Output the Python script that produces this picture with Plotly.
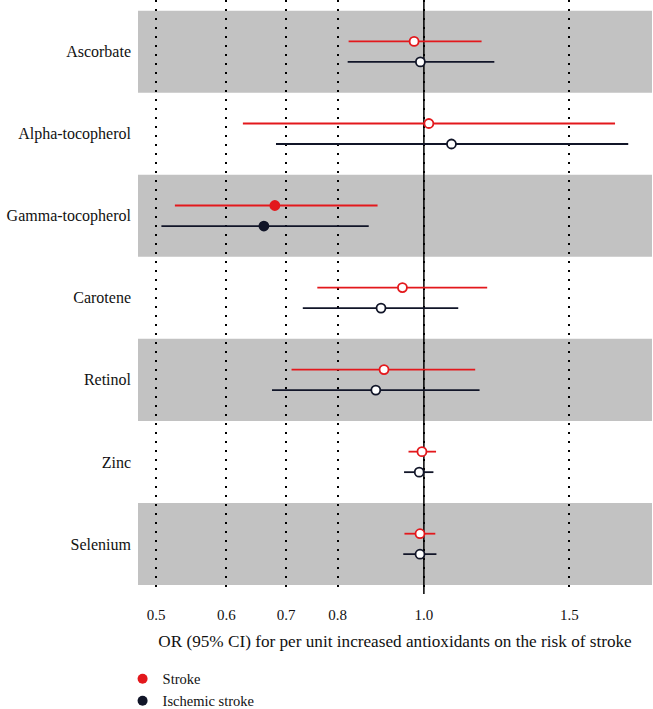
import plotly.graph_objects as go
import numpy as np

categories = ["Ascorbate", "Alpha-tocopherol", "Gamma-tocopherol", "Carotene",
              "Retinol", "Zinc", "Selenium"]

stroke_or = [0.975, 1.013, 0.680, 0.946, 0.902, 0.995, 0.990]
stroke_lo = [0.823, 0.626, 0.525, 0.759, 0.710, 0.961, 0.951]
stroke_hi = [1.161, 1.640, 0.887, 1.178, 1.142, 1.032, 1.030]

isch_or = [0.991, 1.074, 0.661, 0.895, 0.883, 0.988, 0.990]
isch_lo = [0.821, 0.682, 0.507, 0.731, 0.675, 0.950, 0.948]
isch_hi = [1.200, 1.697, 0.867, 1.093, 1.155, 1.025, 1.033]

tick_vals = [0.5, 0.6, 0.7, 0.8, 1.0, 1.457]
tick_text = ["0.5", "0.6", "0.7", "0.8", "1.0", "1.5"]

series = [
    ("Stroke", stroke_or, stroke_lo, stroke_hi, "#E3181C", 0.125),
    ("Ischemic stroke", isch_or, isch_lo, isch_hi, "#111528", -0.125),
]

n = len(categories)
centers = [n - i for i in range(n)]

FONT = "Liberation Serif"
fig = go.Figure()

for name, est, lo, hi, color, off in series:
    est = np.array(est); lo = np.array(lo); hi = np.array(hi)
    sig = (hi < 1) | (lo > 1)
    fills = [color if s else "white" for s in sig]
    fig.add_trace(go.Scatter(
        x=est, y=[c + off for c in centers], mode="markers",
        error_x=dict(type="data", symmetric=False, array=hi - est,
                     arrayminus=est - lo, color=color, thickness=1.8, width=0),
        marker=dict(size=9, color=fills, line=dict(color=color, width=1.8)),
        showlegend=False, hoverinfo="skip"))
    fig.add_trace(go.Scatter(
        x=[None], y=[None], mode="markers", name=name,
        marker=dict(size=10, color=color)))

shapes = []
for i, c in enumerate(centers):
    if i % 2 == 0:
        shapes.append(dict(type="rect", xref="paper", x0=0, x1=1, yref="y",
                           y0=c - 0.5, y1=c + 0.5, fillcolor="#c2c2c2",
                           line=dict(width=0), layer="below"))
shapes.append(dict(type="line", xref="x", x0=1, x1=1, yref="paper", y0=0, y1=1,
                   line=dict(color="black", width=1.5), layer="between"))

fig.update_layout(
    width=653, height=709,
    margin=dict(l=138, r=1, t=0, b=115, autoexpand=False),
    plot_bgcolor="white", paper_bgcolor="white",
    font=dict(family=FONT, color="#111", size=14),
    shapes=shapes,
    showlegend=True,
    legend=dict(x=-0.03, y=-0.116, xanchor="left", yanchor="top",
                font=dict(size=14.5, family=FONT),
                bgcolor="rgba(0,0,0,0)", tracegroupgap=0, itemwidth=30,
                borderwidth=0),
    xaxis=dict(type="log", range=[np.log10(0.4772), np.log10(1.8046)],
               tickvals=tick_vals, ticktext=tick_text, showgrid=True,
               gridcolor="black", griddash="2px,7px", gridwidth=1.5,
               zeroline=False, showline=False, ticks="", ticklabelstandoff=10,
               automargin=False,
               tickfont=dict(size=15, family=FONT),
               title=dict(text="OR (95% CI) for per unit increased antioxidants on the risk of stroke",
                          font=dict(size=17.2, family=FONT), standoff=12)),
    yaxis=dict(range=[0.39, 7.63], tickvals=centers, ticktext=categories,
               showgrid=False, zeroline=False, showline=False, ticks="",
               automargin=False,
               ticklabelstandoff=6, tickfont=dict(size=16, family=FONT)),
)

fig.write_html("out.html", config={"displayModeBar": False},
               post_script="document.body.style.margin='0';document.body.style.overflow='hidden';")
